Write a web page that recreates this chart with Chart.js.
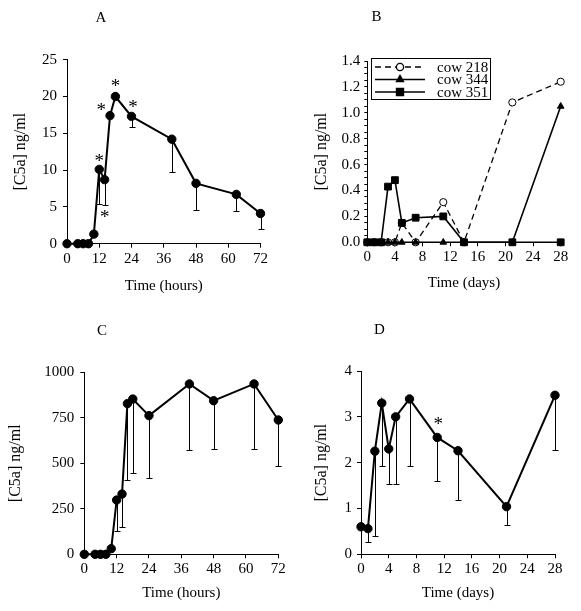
<!DOCTYPE html>
<html><head><meta charset="utf-8">
<script src="https://cdn.jsdelivr.net/npm/chart.js@4/dist/chart.umd.min.js"></script>
<style>
html,body{margin:0;padding:0;background:#fff;}
#wrap{position:relative;width:581px;height:611px;overflow:hidden;background:#fff;}
canvas{position:absolute;left:0;top:0;}
</style></head><body><div id="wrap">
<canvas id="cA" width="581" height="611"></canvas>
<canvas id="cB" width="581" height="611"></canvas>
<canvas id="cC" width="581" height="611"></canvas>
<canvas id="cD" width="581" height="611"></canvas>
</div>
<script>
// ---------- Panel A (hours) ----------
const timesA = [0, 4, 6, 8, 10, 12, 14, 16, 18, 24, 39, 48, 63, 72];
const c5aA   = [0, 0, 0, 0, 1.3, 10.1, 8.7, 17.4, 20.0, 17.3, 14.2, 8.2, 6.7, 4.1];
const lowA   = [null, null, null, null, null, 5.4, 5.3, null, null, 15.8, 9.7, 4.6, 4.4, 2.0];
const starsA = [[12, 11.6], [14, 4.0], [12.7, 18.6], [18, 21.8], [24.6, 19.0]];
const xTicksHours = [0, 12, 24, 36, 48, 60, 72];
const yTicksA = [0, 5, 10, 15, 20, 25];

// ---------- Panel B (days, individual cows) ----------
const daysB  = [0, 1, 2, 3, 4, 5, 7, 11, 14, 21, 28];
const cow218 = [0, 0, 0, 0, 0, 0.15, 0, 0.31, 0, 1.08, 1.24];
const cow344 = [0, 0, 0, 0, 0, 0, 0, 0, 0, 0, 1.05];
const cow351 = [0, 0, 0, 0.43, 0.48, 0.15, 0.19, 0.20, 0, 0, 0];
const namesB = ['cow 218', 'cow 344', 'cow 351'];
const xTicksDays = [0, 4, 8, 12, 16, 20, 24, 28];
const yTickValsB = [0, 0.2, 0.4, 0.6, 0.8, 1.0, 1.2, 1.4];
const yTickLabelsB = ['0.0', '0.2', '0.4', '0.6', '0.8', '1.0', '1.2', '1.4'];
const yMinorB = [0, 0.05, 0.1, 0.15, 0.2, 0.25, 0.3, 0.35, 0.4, 0.45, 0.5, 0.55, 0.6, 0.65, 0.7,
                 0.75, 0.8, 0.85, 0.9, 0.95, 1.0, 1.05, 1.1, 1.15, 1.2, 1.25, 1.3, 1.35, 1.4];

// ---------- Panel C (hours) ----------
const timesC = [0, 4, 6, 8, 10, 12, 14, 16, 18, 24, 39, 48, 63, 72];
const c5aC   = [0, 0, 0, 0, 31, 298, 331, 828, 853, 762, 936, 844, 936, 738];
const lowC   = [null, null, null, null, null, 128, 152, 408, 445, 421, 571, 579, 580, 485];
const yTicksC = [0, 250, 500, 750, 1000];

// ---------- Panel D (days) ----------
const daysD = [0, 1, 2, 3, 4, 5, 7, 11, 14, 21, 28];
const c5aD  = [0.6, 0.56, 2.25, 3.3, 2.3, 3.0, 3.39, 2.55, 2.26, 1.04, 3.47];
const lowD  = [0, 0.26, 0.41, 1.93, 1.54, 1.54, 1.93, 1.61, 1.19, 0.63, 2.27];
const starsD = [[11.15, 2.9]];
const yTicksD = [0, 1, 2, 3, 4];

const FAMILY = "'Liberation Serif', 'Times New Roman', serif";
const FS = 15;
const STAR = 19;
const toXY = (xs, ys) => xs.map((x, i) => ({x: x, y: ys[i]}));

const errorBars = {
  id: 'errorBars',
  beforeDatasetsDraw(chart) {
    const ctx = chart.ctx, xs = chart.scales.x, ys = chart.scales.y;
    chart.data.datasets.forEach(ds => {
      if (!ds.errLow) return;
      ctx.save();
      ctx.strokeStyle = '#000';
      ctx.lineWidth = 1;
      ds.data.forEach((p, i) => {
        const lo = ds.errLow[i];
        if (lo === null || lo === undefined) return;
        const x = Math.round(xs.getPixelForValue(p.x)) + 0.5;
        const y0 = ys.getPixelForValue(p.y), y1 = Math.round(ys.getPixelForValue(lo)) + 0.5;
        ctx.beginPath();
        ctx.moveTo(x, y0); ctx.lineTo(x, y1);
        ctx.moveTo(x - 3, y1); ctx.lineTo(x + 3, y1);
        ctx.stroke();
      });
      ctx.restore();
    });
  }
};

const stars = {
  id: 'stars',
  afterDatasetsDraw(chart, args, opts) {
    if (!opts || !opts.points) return;
    const ctx = chart.ctx, xs = chart.scales.x, ys = chart.scales.y;
    ctx.save();
    ctx.fillStyle = '#000';
    ctx.font = STAR + 'px ' + FAMILY;
    ctx.textAlign = 'center';
    ctx.textBaseline = 'alphabetic';
    opts.points.forEach(p => {
      ctx.fillText('*', xs.getPixelForValue(p[0]), ys.getPixelForValue(p[1]) + 0.47 * STAR);
    });
    ctx.restore();
  }
};

const letter = {
  id: 'letter',
  afterDraw(chart, args, opts) {
    if (!opts || !opts.text) return;
    const ctx = chart.ctx;
    ctx.save();
    ctx.fillStyle = '#000';
    ctx.font = FS + 'px ' + FAMILY;
    ctx.textAlign = 'center';
    ctx.textBaseline = 'middle';
    ctx.fillText(opts.text, opts.x, opts.y);
    ctx.restore();
  }
};

const boxLegend = {
  id: 'boxLegend',
  afterDatasetsDraw(chart, args, opts) {
    if (!opts || !opts.show) return;
    const ctx = chart.ctx;
    ctx.save();
    ctx.fillStyle = '#fff';
    ctx.fillRect(opts.left, opts.top, opts.width, opts.height);
    ctx.strokeStyle = '#000';
    ctx.lineWidth = 1;
    ctx.strokeRect(Math.round(opts.left) + 0.5, Math.round(opts.top) + 0.5, opts.width, opts.height);
    chart.data.datasets.forEach((ds, i) => {
      const y = opts.top + opts.firstRow + i * opts.rowGap;
      const x0 = opts.left + 4, x1 = opts.left + 54;
      ctx.strokeStyle = '#000';
      ctx.lineWidth = ds.borderWidth;
      ctx.setLineDash(ds.borderDash || []);
      ctx.beginPath(); ctx.moveTo(x0, y); ctx.lineTo(x1, y); ctx.stroke();
      ctx.setLineDash([]);
      ctx.fillStyle = ds.pointBackgroundColor;
      ctx.strokeStyle = ds.pointBorderColor;
      Chart.helpers.drawPoint(ctx, {pointStyle: ds.pointStyle, radius: ds.pointRadius, rotation: 0, borderWidth: 1}, (x0 + x1) / 2, y);
      ctx.fillStyle = '#000';
      ctx.font = FS + 'px ' + FAMILY;
      ctx.textAlign = 'left';
      ctx.textBaseline = 'middle';
      ctx.fillText(ds.label, opts.left + 66, y + 1);
    });
    ctx.restore();
  }
};

function makePanel(id, cfg) {
  const b = cfg.box;
  const lh = FS * 1.2;
  const padL = b.yTitleX - 10;
  const padB = 611 - (b.xTitleY + 10);
  const Wy = b.L - padL;
  const Hx = (b.xTitleY + 10) - b.B;
  const font = {family: FAMILY, size: FS};
  return new Chart(document.getElementById(id), {
    type: 'scatter',
    data: {datasets: cfg.datasets},
    options: {
      responsive: false, animation: false, devicePixelRatio: 1,
      events: [],
      layout: {padding: {left: padL, right: 581 - b.R, top: b.T, bottom: padB}},
      plugins: {
        legend: {display: false}, tooltip: {enabled: false},
        stars: {points: cfg.stars || null},
        letter: cfg.letter,
        boxLegend: cfg.legend || {show: false}
      },
      scales: {
        x: {
          type: 'linear', min: cfg.xMin, max: cfg.xMax,
          afterFit: s => { s.height = Hx; },
          afterBuildTicks: s => { s.ticks = cfg.xTicks.map(v => ({value: v})); },
          ticks: {font: font, color: '#000', padding: 2, maxRotation: 0, autoSkip: false, callback: v => String(v)},
          grid: {display: true, drawOnChartArea: false, drawTicks: true, tickLength: 4, color: '#000'},
          border: {display: true, color: '#000', width: 1},
          title: {display: true, text: cfg.xTitle, font: font, color: '#000', padding: {top: 0, bottom: 10 - lh / 2}}
        },
        y: {
          type: 'linear', min: cfg.yMin, max: cfg.yMax,
          afterFit: s => { s.width = Wy; },
          afterBuildTicks: s => { s.ticks = cfg.yTickVals.map(v => ({value: v})); },
          ticks: {font: font, color: '#000', padding: cfg.yPad, autoSkip: false, callback: cfg.yLabel},
          grid: {display: true, drawOnChartArea: false, drawTicks: true, tickLength: cfg.yTickLen || 4, color: '#000'},
          border: {display: true, color: '#000', width: 1},
          title: {display: true, text: '[C5a] ng/ml', font: {family: FAMILY, size: 16}, color: '#000', padding: {top: 10 - 16 * 0.6, bottom: 0}}
        }
      }
    },
    plugins: [errorBars, stars, letter, boxLegend]
  });
}

function meanSeries(xs, ys, lows) {
  return {
    label: 'mean', data: toXY(xs, ys), errLow: lows, showLine: true, clip: false,
    borderColor: '#000', borderWidth: 2, tension: 0,
    pointStyle: 'circle', pointRadius: 4.2, pointBackgroundColor: '#000', pointBorderColor: '#000', pointBorderWidth: 1
  };
}

makePanel('cA', {
  box: {L: 67, R: 260.5, T: 59.7, B: 243.7, yTitleX: 20.7, xTitleY: 286},
  datasets: [meanSeries(timesA, c5aA, lowA)],
  xMin: 0, xMax: 72, xTicks: xTicksHours, xTitle: 'Time (hours)',
  yMin: 0, yMax: 25, yTickVals: yTicksA, yLabel: v => String(v), yPad: 6,
  stars: starsA, letter: {text: 'A', x: 101, y: 18}
});

makePanel('cB', {
  box: {L: 367.3, R: 560.7, T: 61, B: 242.3, yTitleX: 321.7, xTitleY: 283},
  datasets: [
    {label: namesB[0], data: toXY(daysB, cow218), showLine: true, clip: false, order: 2,
     borderColor: '#000', borderWidth: 1.3, borderDash: [6, 4], tension: 0,
     pointStyle: 'circle', pointRadius: 3.6, pointBackgroundColor: '#fff', pointBorderColor: '#000', pointBorderWidth: 1},
    {label: namesB[1], data: toXY(daysB, cow344), showLine: true, clip: false, order: 1,
     borderColor: '#000', borderWidth: 1.6, tension: 0,
     pointStyle: 'triangle', pointRadius: 3.8, pointBackgroundColor: '#000', pointBorderColor: '#000', pointBorderWidth: 1},
    {label: namesB[2], data: toXY(daysB, cow351), showLine: true, clip: false, order: 0,
     borderColor: '#000', borderWidth: 1.6, tension: 0,
     pointStyle: 'rect', pointRadius: 4.8, pointBackgroundColor: '#000', pointBorderColor: '#000', pointBorderWidth: 1}
  ],
  xMin: 0, xMax: 28, xTicks: xTicksDays, xTitle: 'Time (days)',
  yMin: 0, yMax: 1.4, yTickVals: yMinorB, yPad: 4, yTickLen: 3,
  yLabel: v => { const i = yTickValsB.findIndex(t => Math.abs(t - v) < 1e-9); return i >= 0 ? yTickLabelsB[i] : ''; },
  letter: {text: 'B', x: 376.5, y: 17},
  legend: {show: true, left: 371, top: 58, width: 119, height: 41, firstRow: 9, rowGap: 12.5}
});

makePanel('cC', {
  box: {L: 84.3, R: 278.3, T: 372.3, B: 554.3, yTitleX: 16, xTitleY: 593.3},
  datasets: [meanSeries(timesC, c5aC, lowC)],
  xMin: 0, xMax: 72, xTicks: xTicksHours, xTitle: 'Time (hours)',
  yMin: 0, yMax: 1000, yTickVals: yTicksC, yLabel: v => String(v), yPad: 6,
  letter: {text: 'C', x: 102, y: 331}
});

makePanel('cD', {
  box: {L: 361, R: 555, T: 371, B: 554.3, yTitleX: 321.7, xTitleY: 593.3},
  datasets: [meanSeries(daysD, c5aD, lowD)],
  xMin: 0, xMax: 28, xTicks: xTicksDays, xTitle: 'Time (days)',
  yMin: 0, yMax: 4, yTickVals: yTicksD, yLabel: v => String(v), yPad: 5,
  stars: starsD, letter: {text: 'D', x: 379.5, y: 330}
});
</script>
</body></html>
